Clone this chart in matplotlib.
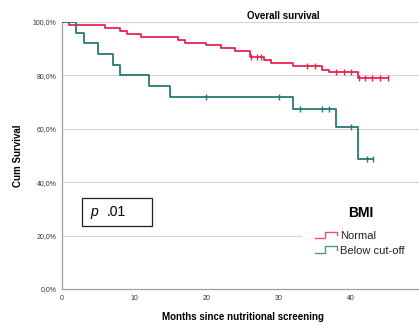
import matplotlib
matplotlib.use("Agg")
import matplotlib.pyplot as plt
from matplotlib.lines import Line2D
from matplotlib.patches import Rectangle
import numpy as np

# ---- data ----
normal_times = [0, 1, 6, 8, 9, 11, 16, 17, 20, 22, 24, 26, 28, 29, 32, 36, 37, 41, 45.2]
normal_surv = [1.0, .989, .978, .967, .956, .945, .934, .923, .912, .901, .890, .868,
               .857, .846, .834, .822, .811, .792, .792]
normal_censor = [26.2, 27.0, 27.6, 33.9, 35.0, 38.0, 39.0, 40.0, 41.1, 42.0, 43.0, 44.0, 45.2]

below_times = [0, 2, 3, 5, 7, 8, 12, 15, 32, 38, 41, 43.1]
below_surv = [1.0, .96, .92, .88, .84, .80, .76, .72, .675, .6075, .486, .486]
below_censor = [20.0, 30.0, 33.0, 36.0, 37.0, 40.0, 42.2, 43.1]

series_labels = ["Normal", "Below cut-off"]
x_ticks = [0, 10, 20, 30, 40]
y_ticks = [0, .2, .4, .6, .8, 1.0]
y_tick_labels = ["0,0%", "20,0%", "40,0%", "60,0%", "80,0%", "100,0%"]

RED = "#e8234f"
TEAL = "#267a72"
FONT = "Liberation Sans"

W, H = 419, 326
fig = plt.figure(figsize=(W / 100, H / 100), dpi=100)

def fx(x):
    return x / W

def fy(y):
    return 1 - y / H

x0, x1, ytop, ybot = 62, 423, 22, 289
ax = fig.add_axes([fx(x0), fy(ybot), (x1 - x0) / W, (ybot - ytop) / H])
ax.set_xlim(0, 50)
ax.set_ylim(0, 1)

for y in y_ticks[1:]:
    ax.axhline(y, color="#d4d4d4", lw=0.8, zorder=0)

def surv_at(times, surv, t):
    idx = np.searchsorted(times, t, side="right") - 1
    return surv[idx]

for times, surv, cens, col in [(normal_times, normal_surv, normal_censor, RED),
                               (below_times, below_surv, below_censor, TEAL)]:
    ax.step(times, surv, where="post", color=col, lw=1.3, zorder=3)
    cy = [surv_at(times, surv, t) for t in cens]
    ax.plot(cens, cy, ls="none", marker="|", ms=5, mew=1.0, color=col, zorder=4)

for s in ["top", "right"]:
    ax.spines[s].set_visible(False)
for s in ["left", "bottom"]:
    ax.spines[s].set_color("#a0a0a0")
    ax.spines[s].set_linewidth(0.9)

ax.set_xticks(x_ticks)
ax.set_xticklabels([str(v) for v in x_ticks], fontsize=5, family=FONT, color="#333333")
ax.set_yticks(y_ticks)
ax.set_yticklabels(y_tick_labels, fontsize=5, family=FONT, color="#333333")
ax.tick_params(length=0, pad=4)

fig.text(fx(18), fy(155.5), "Cum Survival", rotation=90, ha="center", va="center",
         fontsize=7, fontweight="bold", family=FONT)
fig.text(fx(243), fy(316.7), "Months since nutritional screening", ha="center", va="center",
         fontsize=7, fontweight="bold", family=FONT)
fig.text(fx(283), fy(15.7), "Overall survival", ha="center", va="center",
         fontsize=7, fontweight="bold", family=FONT)

# p-value box
fig.patches.append(Rectangle((fx(81.7), fy(225.7)), (152.3 - 81.7) / W, (225.7 - 197.7) / H,
                             transform=fig.transFigure, facecolor="white",
                             edgecolor="#222222", lw=0.9, zorder=5))
fig.text(fx(90.5), fy(212), "p", style="italic", ha="left", va="center", fontsize=10,
         family=FONT, zorder=6)
fig.text(fx(107), fy(212), ".01", ha="left", va="center", fontsize=10, family=FONT, zorder=6)

# legend
fig.patches.append(Rectangle((fx(302), fy(262)), (W - 302) / W, (262 - 198) / H,
                             transform=fig.transFigure, facecolor="white",
                             edgecolor="none", zorder=5))
fig.text(fx(361), fy(213), "BMI", ha="center", va="center", fontsize=10,
         fontweight="bold", family=FONT, zorder=6)
for i, (lab, col) in enumerate(zip(series_labels, [RED, TEAL])):
    dy = i * 14.5
    xs = [315, 325, 325, 336.7, 336.7]
    ys = [238.3 + dy, 238.3 + dy, 231.7 + dy, 231.7 + dy, 235 + dy]
    fig.lines.append(Line2D([fx(v) for v in xs], [fy(v) for v in ys], color=col, lw=1.0,
                            transform=fig.transFigure, zorder=7, alpha=0.8))
    fig.text(fx(340), fy(236 + dy), lab, ha="left", va="center", fontsize=8,
             family=FONT, color="#222222", zorder=7)

fig.savefig("out.png", dpi=100)
